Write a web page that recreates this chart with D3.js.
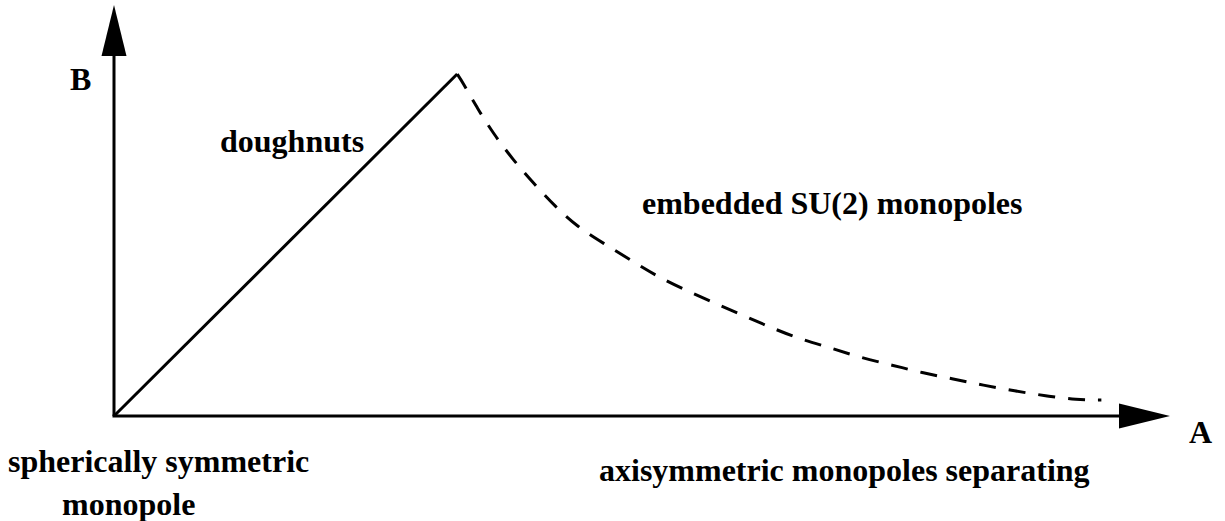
<!DOCTYPE html>
<html>
<head>
<meta charset="utf-8">
<script src="https://cdn.jsdelivr.net/npm/d3@7"></script>
<style>
  body { margin: 0; background: #fff; }
</style>
</head>
<body>
<svg id="chart" width="1225" height="521"></svg>
<script>
// solid branch: spherically symmetric monopole -> doughnuts
var solidA = [0, 32.5];
var solidB = [0, 83.2];

// dashed branch: embedded SU(2) monopoles
var dashA = [32.5, 33.0, 34.4, 35.9, 37.8, 39.7, 41.8, 43.9, 46.3, 48.9, 51.5, 55.5, 59.3, 62.3, 65.2, 68.0, 70.8, 73.7, 76.5, 79.5, 82.3, 85.3, 88.2, 91.2, 93.5];
var dashB = [83.2, 81.3, 74.9, 68.8, 62.3, 56.7, 50.9, 46.0, 42.1, 38.0, 33.8, 29.0, 24.8, 21.4, 18.5, 16.5, 14.1, 12.4, 10.5, 9.0, 7.5, 6.1, 4.9, 3.9, 3.9];

var axisMax = 100;

var svg = d3.select("#chart");

var x = d3.scaleLinear().domain([0, axisMax]).range([114, 1170]),
  y = d3.scaleLinear().domain([0, axisMax]).range([416, 5]);

var arrowLen = 51, arrowHalf = 12.5;

// axes
svg.append("line")
  .attr("x1", x(0)).attr("y1", y(0))
  .attr("x2", x(0)).attr("y2", y(axisMax) + arrowLen)
  .attr("stroke", "#000").attr("stroke-width", 3);

svg.append("line")
  .attr("x1", x(0) - 1.5).attr("y1", y(0))
  .attr("x2", x(axisMax) - arrowLen).attr("y2", y(0))
  .attr("stroke", "#000").attr("stroke-width", 3);

svg.append("path")
  .attr("d", "M" + x(0) + "," + y(axisMax)
    + "L" + (x(0) + arrowHalf) + "," + (y(axisMax) + arrowLen)
    + "L" + (x(0) - arrowHalf) + "," + (y(axisMax) + arrowLen) + "Z")
  .attr("fill", "#000");

svg.append("path")
  .attr("d", "M" + x(axisMax) + "," + y(0)
    + "L" + (x(axisMax) - arrowLen) + "," + (y(0) - arrowHalf)
    + "L" + (x(axisMax) - arrowLen) + "," + (y(0) + arrowHalf) + "Z")
  .attr("fill", "#000");

var line = d3.line()
  .x(function(d) { return x(d[0]); })
  .y(function(d) { return y(d[1]); });

// basis smooths out reading noise in the dashed branch
var curve = d3.line()
  .curve(d3.curveBasis)
  .x(function(d) { return x(d[0]); })
  .y(function(d) { return y(d[1]); });

svg.append("path")
  .datum(d3.zip(solidA, solidB))
  .attr("d", line)
  .attr("fill", "none")
  .attr("stroke", "#000")
  .attr("stroke-width", 3);

svg.append("path")
  .datum(d3.zip(dashA, dashB))
  .attr("d", curve)
  .attr("fill", "none")
  .attr("stroke", "#000")
  .attr("stroke-width", 3)
  .attr("stroke-dasharray", "17,13");

// labels
var labels = [
  {t: "B", x: 70, y: 90},
  {t: "A", x: 1189, y: 443},
  {t: "doughnuts", x: 220, y: 152},
  {t: "embedded SU(2) monopoles", x: 642, y: 214},
  {t: "spherically symmetric", x: 8, y: 472},
  {t: "monopole", x: 62, y: 515},
  {t: "axisymmetric monopoles separating", x: 599, y: 481}
];

svg.selectAll("text.lbl")
  .data(labels)
  .enter().append("text")
  .attr("class", "lbl")
  .attr("x", function(d) { return d.x; })
  .attr("y", function(d) { return d.y; })
  .attr("font-family", "'Liberation Serif', 'Times New Roman', Times, 'DejaVu Serif', serif")
  .attr("font-weight", "bold")
  .attr("font-size", 32)
  .attr("fill", "#000")
  .text(function(d) { return d.t; });
</script>
</body>
</html>
